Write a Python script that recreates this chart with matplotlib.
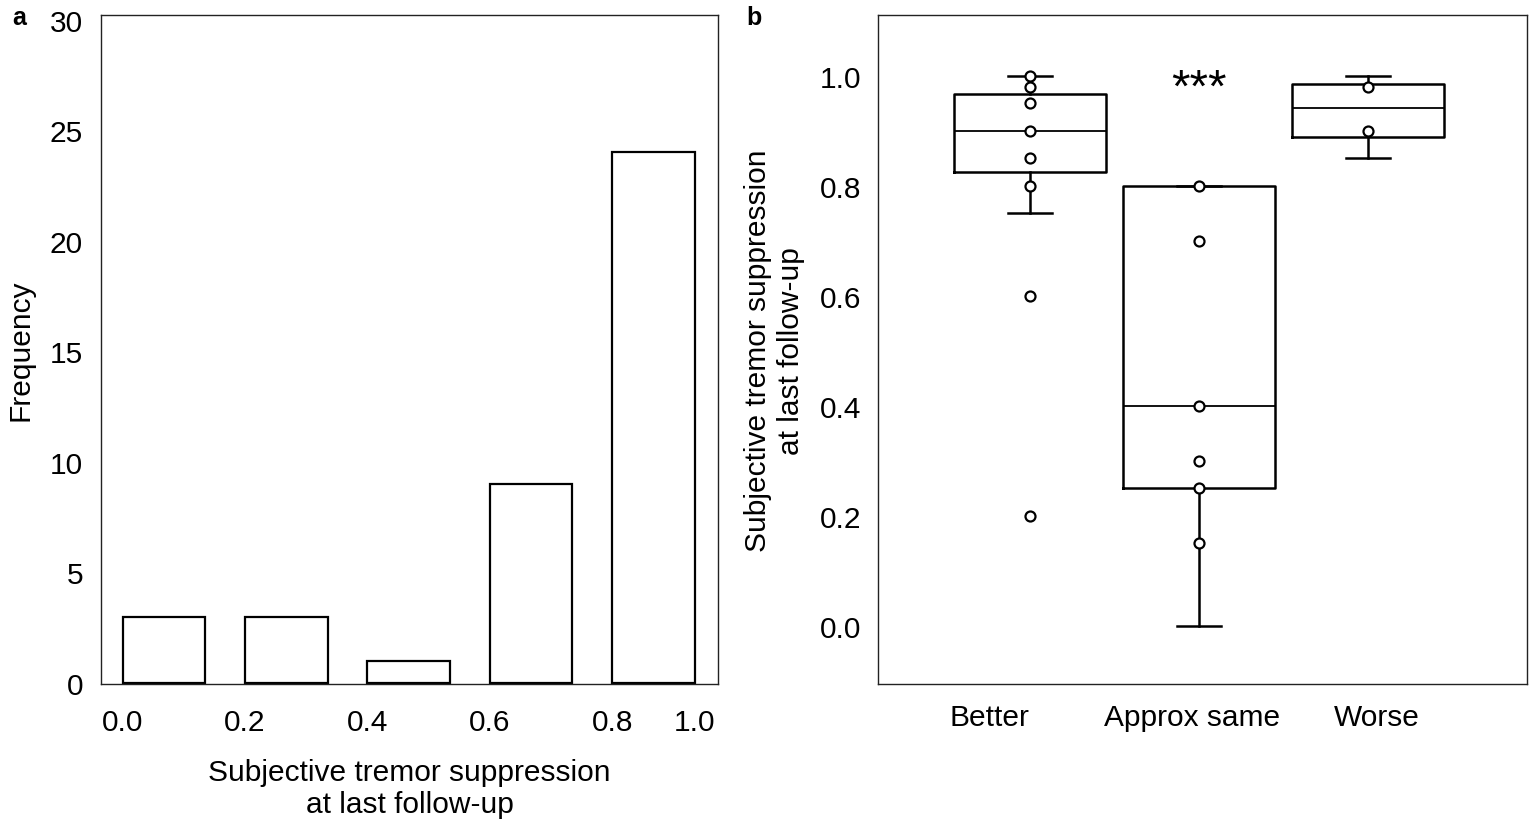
import matplotlib
matplotlib.use("Agg")
import matplotlib.pyplot as plt

plt.rcParams['font.family'] = ['Liberation Sans', 'DejaVu Sans']

# panel a: histogram of subjective tremor suppression
bin_left = [0.0, 0.2, 0.4, 0.6, 0.8]
freq = [3, 3, 1, 9, 24]
hist_ticklabels = ['0.0', '0.2', '0.4', '0.6', '0.8', '1.0']

# panel b: suppression by group
groups = ['Better', 'Approx same', 'Worse']
better_pts = [1.0, 0.98, 0.95, 0.9, 0.85, 0.8, 0.6, 0.2]
approx_pts = [0.8, 0.7, 0.4, 0.3, 0.25, 0.15]
worse_pts = [0.98, 0.9]
whislo = [0.75, 0.0, 0.85]
q1 = [0.825, 0.25, 0.889]
med = [0.90, 0.40, 0.941]
q3 = [0.966, 0.80, 0.986]
whishi = [1.0, 0.80, 1.0]
label_pos = [-0.24, 0.96, 2.05]

bar_w = 0.135
fs = 21.5

fig = plt.figure(figsize=(15.35, 8.28), dpi=100)
ax1 = fig.add_axes([0.0658, 0.1727, 0.4020, 0.8076])
ax2 = fig.add_axes([0.5720, 0.1727, 0.4228, 0.8076])

# ---- panel a
ax1.bar(bin_left, freq, width=bar_w, align='edge', facecolor='white',
        edgecolor='black', linewidth=1.6)
ax1.set_xlim(-0.0353, 0.973)
ax1.set_ylim(-0.05, 30.2)
ax1.set_yticks([0, 5, 10, 15, 20, 25, 30])
ax1.set_xticks(bin_left + [bin_left[-1] + bar_w])
ax1.set_xticklabels(hist_ticklabels)
ax1.tick_params(axis='both', length=0, labelsize=fs)
ax1.tick_params(axis='y', pad=13)
ax1.tick_params(axis='x', pad=17)
ax1.set_ylabel('Frequency', fontsize=fs, labelpad=11)
ax1.set_xlabel('Subjective tremor suppression\nat last follow-up', fontsize=fs,
               labelpad=16, linespacing=1.2)

# ---- panel b
stats = []
for i in range(len(groups)):
    stats.append(dict(med=med[i], q1=q1[i], q3=q3[i], whislo=whislo[i],
                      whishi=whishi[i], fliers=[]))
ax2.bxp(stats, positions=[0, 1, 2], widths=0.9, capwidths=0.26,
        showfliers=False,
        boxprops=dict(color='black', linewidth=1.8),
        whiskerprops=dict(color='black', linewidth=1.8),
        capprops=dict(color='black', linewidth=1.8),
        medianprops=dict(color='black', linewidth=1.3))

for i, pts in enumerate([better_pts, approx_pts, worse_pts]):
    ax2.plot([i] * len(pts), pts, 'o', markerfacecolor='white',
             markeredgecolor='black', markersize=7.2, markeredgewidth=1.6,
             zorder=5)

ax2.text(1, 0.976, '***', ha='center', va='center', fontsize=34)

ax2.set_xlim(-0.9, 2.94)
ax2.set_ylim(-0.106, 1.11)
ax2.set_yticks([0.0, 0.2, 0.4, 0.6, 0.8, 1.0])
ax2.set_yticklabels(['0.0', '0.2', '0.4', '0.6', '0.8', '1.0'])
ax2.set_xticks(label_pos)
ax2.set_xticklabels(groups)
ax2.tick_params(axis='both', length=0, labelsize=fs)
ax2.tick_params(axis='y', pad=12)
ax2.tick_params(axis='x', pad=14)
ax2.set_ylabel('Subjective tremor suppression\nat last follow-up', fontsize=fs,
               labelpad=11, linespacing=1.2)

for ax in (ax1, ax2):
    for s in ax.spines.values():
        s.set_linewidth(1.0)
        s.set_color('#222222')

fig.text(0.0128, 0.978, 'a', fontsize=18, fontweight='bold', va='center', ha='center')
fig.text(0.4913, 0.978, 'b', fontsize=18, fontweight='bold', va='center', ha='center')

fig.savefig('out.png', dpi=100)
